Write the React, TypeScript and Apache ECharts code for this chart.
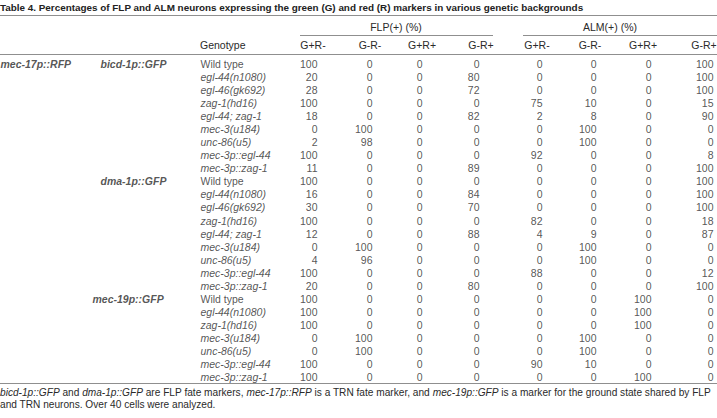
import React, { useEffect, useRef } from "react";
import * as echarts from "echarts";

const TITLE =
  "Table 4. Percentages of FLP and ALM neurons expressing the green (G) and red (R) markers in various genetic backgrounds";
const GROUP_HEADERS = ["FLP(+) (%)", "ALM(+) (%)"];
const COLUMN_HEADERS = ["G+R-", "G-R-", "G+R+", "G-R+"];
const GENOTYPE_HEADER = "Genotype";
const REPORTER = "mec-17p::RFP";
const BACKGROUNDS = ["bicd-1p::GFP", "dma-1p::GFP", "mec-19p::GFP"];

const GENOTYPES_BICD = [
  "Wild type", "egl-44(n1080)", "egl-46(gk692)", "zag-1(hd16)", "egl-44; zag-1",
  "mec-3(u184)", "unc-86(u5)", "mec-3p::egl-44", "mec-3p::zag-1",
];
const GENOTYPES_DMA = [
  "Wild type", "egl-44(n1080)", "egl-46(gk692)", "zag-1(hd16)", "egl-44; zag-1",
  "mec-3(u184)", "unc-86(u5)", "mec-3p::egl-44", "mec-3p::zag-1",
];
const GENOTYPES_MEC19 = [
  "Wild type", "egl-44(n1080)", "zag-1(hd16)", "mec-3(u184)", "unc-86(u5)",
  "mec-3p::egl-44", "mec-3p::zag-1",
];

// FLP(+) columns (bicd 9, dma 9, mec-19 7)
const FLP_GpRm = [100, 20, 28, 100, 18, 0, 2, 100, 11, 100, 16, 30, 100, 12, 0, 4, 100, 20, 100, 100, 100, 0, 0, 100, 100];
const FLP_GmRm = [0, 0, 0, 0, 0, 100, 98, 0, 0, 0, 0, 0, 0, 0, 100, 96, 0, 0, 0, 0, 0, 100, 100, 0, 0];
const FLP_GpRp = [0, 0, 0, 0, 0, 0, 0, 0, 0, 0, 0, 0, 0, 0, 0, 0, 0, 0, 0, 0, 0, 0, 0, 0, 0];
const FLP_GmRp = [0, 80, 72, 0, 82, 0, 0, 0, 89, 0, 84, 70, 0, 88, 0, 0, 0, 80, 0, 0, 0, 0, 0, 0, 0];
// ALM(+) columns
const ALM_GpRm = [0, 0, 0, 75, 2, 0, 0, 92, 0, 0, 0, 0, 82, 4, 0, 0, 88, 0, 0, 0, 0, 0, 0, 90, 0];
const ALM_GmRm = [0, 0, 0, 10, 8, 100, 100, 0, 0, 0, 0, 0, 0, 9, 100, 100, 0, 0, 0, 0, 0, 100, 100, 10, 0];
const ALM_GpRp = [0, 0, 0, 0, 0, 0, 0, 0, 0, 0, 0, 0, 0, 0, 0, 0, 0, 0, 100, 100, 100, 0, 0, 0, 100];
const ALM_GmRp = [100, 100, 100, 15, 90, 0, 0, 8, 100, 100, 100, 100, 18, 87, 0, 0, 12, 100, 0, 0, 0, 0, 0, 0, 0];

const FOOTNOTE_1 =
  "{i|bicd-1p::GFP} and {i|dma-1p::GFP} are FLP fate markers, {i|mec-17p::RFP} is a TRN fate marker, and {i|mec-19p::GFP} is a marker for the ground state shared by FLP";
const FOOTNOTE_2 = "and TRN neurons. Over 40 cells were analyzed.";

// ---- layout (pixels) ----
const W = 717;
const H = 418;
const FONT = "'Liberation Sans', Arial, sans-serif";
const TEXT = "#2a2a2a";
const RULE = "#8f8f8f";
const COL_RIGHT = [318, 373, 423, 480, 543, 597, 652, 714];
const HEAD_CENTER = [313, 370, 422, 481, 537, 590, 643, 704];
const GROUP_CENTER = [396, 610];
const GROUP_LINE = [[300, 493], [523, 717]];
const GENOTYPE_X = 200;
const REPORTER_X = 0;
const BACKGROUND_X = [100, 100, 92];
const ROW_TOP = 57.5;
const ROW_H = 13.04;
const BODY_SIZE = 10.5;
const NOTE_SIZE = 10.15;
const TITLE_SIZE = 9.9;

const COLUMNS = [FLP_GpRm, FLP_GmRm, FLP_GpRp, FLP_GmRp, ALM_GpRm, ALM_GmRm, ALM_GpRp, ALM_GmRp];
const GENOTYPES = [...GENOTYPES_BICD, ...GENOTYPES_DMA, ...GENOTYPES_MEC19];
const BG_START = [0, GENOTYPES_BICD.length, GENOTYPES_BICD.length + GENOTYPES_DMA.length];

export default function App() {
  const ref = useRef<HTMLDivElement>(null);
  useEffect(() => {
    if (!ref.current) return;
    const chart = echarts.init(ref.current, null, { renderer: "svg" });
    const nRows = GENOTYPES.length;
    const rowCats = GENOTYPES.map((_, i) => String(i));
    const baseLabel = {
      show: true,
      color: TEXT,
      fontFamily: FONT,
      fontSize: BODY_SIZE,
      distance: 0,
    };
    const hidden = { symbolSize: 1, itemStyle: { color: "transparent" }, silent: true };

    const numberSeries = COLUMNS.map((col, c) => ({
      type: "scatter",
      ...hidden,
      data: col.map((v, i) => [COL_RIGHT[c], String(i), v]),
      label: { ...baseLabel, position: "left", formatter: (p: any) => String(p.value[2]) },
    }));

    const genotypeSeries = {
      type: "scatter",
      ...hidden,
      data: GENOTYPES.map((g, i) => ({
        value: [GENOTYPE_X, String(i), g],
        label: { fontStyle: g === "Wild type" ? "normal" : "italic" },
      })),
      label: { ...baseLabel, position: "right", formatter: (p: any) => p.value[2] },
    };

    const bgSeries = {
      type: "scatter",
      ...hidden,
      data: [
        { value: [REPORTER_X, "0", REPORTER] },
        ...BACKGROUNDS.map((b, k) => ({ value: [BACKGROUND_X[k], String(BG_START[k]), b] })),
      ],
      label: {
        ...baseLabel,
        position: "right",
        fontWeight: "bold",
        fontStyle: "italic",
        formatter: (p: any) => p.value[2],
      },
    };

    const graphics: any[] = [
      {
        type: "text",
        x: 0,
        y: 7,
        style: { text: TITLE, font: `bold ${TITLE_SIZE}px ${FONT}`, fill: "#222", verticalAlign: "middle" },
      },
      { type: "line", shape: { x1: 0, y1: 15.5, x2: W, y2: 15.5 }, style: { stroke: RULE, lineWidth: 1 } },
      { type: "line", shape: { x1: 0, y1: 54.5, x2: W, y2: 54.5 }, style: { stroke: RULE, lineWidth: 1 } },
      { type: "line", shape: { x1: 0, y1: 383.5, x2: W, y2: 383.5 }, style: { stroke: RULE, lineWidth: 1 } },
      {
        type: "text",
        x: GENOTYPE_X,
        y: 45,
        style: { text: GENOTYPE_HEADER, font: `${BODY_SIZE}px ${FONT}`, fill: TEXT, verticalAlign: "middle" },
      },
    ];
    GROUP_HEADERS.forEach((g, k) => {
      graphics.push({
        type: "text",
        x: GROUP_CENTER[k],
        y: 27,
        style: { text: g, font: `${BODY_SIZE}px ${FONT}`, fill: TEXT, align: "center", verticalAlign: "middle" },
      });
      graphics.push({
        type: "line",
        shape: { x1: GROUP_LINE[k][0], y1: 35.5, x2: GROUP_LINE[k][1], y2: 35.5 },
        style: { stroke: RULE, lineWidth: 1 },
      });
    });
    HEAD_CENTER.forEach((x, c) => {
      graphics.push({
        type: "text",
        x,
        y: 45,
        style: {
          text: COLUMN_HEADERS[c % 4],
          font: `${BODY_SIZE}px ${FONT}`,
          fill: TEXT,
          align: "center",
          verticalAlign: "middle",
        },
      });
    });
    graphics.push({
      type: "text",
      x: 0,
      y: 392,
      style: {
        text: FOOTNOTE_1,
        font: `${NOTE_SIZE}px ${FONT}`,
        fill: TEXT,
        verticalAlign: "middle",
        rich: { i: { fontStyle: "italic", fontSize: NOTE_SIZE, fontFamily: FONT, fill: TEXT } },
      },
    });
    graphics.push({
      type: "text",
      x: 0,
      y: 404,
      style: { text: FOOTNOTE_2, font: `${NOTE_SIZE}px ${FONT}`, fill: TEXT, verticalAlign: "middle" },
    });

    chart.setOption({
      animation: false,
      grid: { left: 0, right: 0, top: ROW_TOP, height: ROW_H * nRows },
      xAxis: { type: "value", min: 0, max: W, show: false },
      yAxis: { type: "category", data: rowCats, inverse: true, show: false },
      series: [...numberSeries, genotypeSeries, bgSeries],
      graphic: graphics,
    });
    return () => chart.dispose();
  }, []);
  return (
    <div
      ref={ref}
      style={{ position: "fixed", left: 0, top: 0, width: W, height: H, background: "#fff" }}
    />
  );
}
